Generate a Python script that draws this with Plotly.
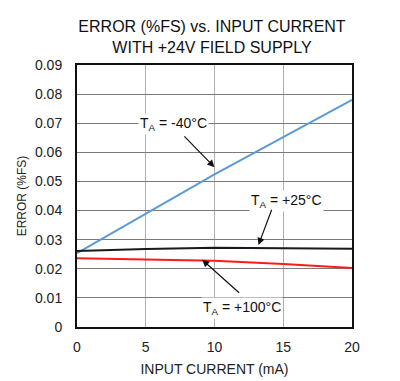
import plotly.graph_objects as go

current = [0, 5, 10, 15, 20]
err_m40 = [0.0254, 0.0390, 0.0524, 0.0652, 0.0780]
err_p25 = [0.0261, 0.0268, 0.0272, 0.0271, 0.0269]
err_p100 = [0.0236, 0.0233, 0.0228, 0.0216, 0.0203]

x_ticks = [0, 5, 10, 15, 20]
y_ticks = [0, 0.01, 0.02, 0.03, 0.04, 0.05, 0.06, 0.07, 0.08, 0.09]

fig = go.Figure()
fig.add_trace(go.Scatter(x=current, y=err_m40, mode="lines",
                         line=dict(color="#5b9bd5", width=2), showlegend=False))
fig.add_trace(go.Scatter(x=current, y=err_p25, mode="lines",
                         line=dict(color="#1a1a1a", width=2), showlegend=False))
fig.add_trace(go.Scatter(x=current, y=err_p100, mode="lines",
                         line=dict(color="#ff1a1a", width=2), showlegend=False))

# darker vertical line at x = 10
fig.add_shape(type="line", x0=10, x1=10, y0=0, y1=0.09, xref="x", yref="y",
              line=dict(color="#222222", width=1), layer="below")

font = "Liberation Sans, Arial, sans-serif"
ann = [
    dict(text="T<sub>A</sub> = -40°C", x=7.0, y=0.0697, ax=7.7, ay=0.0660, head=(10.0, 0.0549)),
    dict(text="T<sub>A</sub> = +25°C", x=15.2, y=0.0434, ax=14.2, ay=0.0408, head=(13.2, 0.0282)),
    dict(text="T<sub>A</sub> = +100°C", x=12.0, y=0.0065, ax=11.9, ay=0.0113, head=(9.1, 0.0231)),
]
for a in ann:
    fig.add_annotation(x=a["x"], y=a["y"], text=a["text"], showarrow=False,
                       font=dict(family=font, size=14, color="#111"),
                       bgcolor="white", borderpad=1)
    fig.add_annotation(x=a["head"][0], y=a["head"][1], ax=a["ax"], ay=a["ay"],
                       axref="x", ayref="y", text="", showarrow=True,
                       arrowhead=2, arrowsize=1.2, arrowwidth=1.2, arrowcolor="#111")

fig.update_layout(
    width=400, height=381,
    margin=dict(l=77, r=48, t=65, b=54),
    paper_bgcolor="white", plot_bgcolor="white",
    font=dict(family=font, size=13, color="#222"),
    title=dict(text="ERROR (%FS) vs. INPUT CURRENT<br>WITH +24V FIELD SUPPLY",
               x=0.53, xanchor="center", y=0.915, yanchor="top",
               font=dict(family=font, size=16, color="#111")),
)
fig.update_xaxes(range=[0, 20], tickvals=x_ticks, showgrid=True, automargin=False,
                 gridcolor="#b0b0b0", gridwidth=1, zeroline=False,
                 showline=True, linecolor="#111", linewidth=2, mirror=True,
                 ticks="outside", ticklen=6, tickcolor="white",
                 title=dict(text="INPUT CURRENT (mA)", font=dict(size=14), standoff=10),
                 tickfont=dict(size=14))
fig.update_yaxes(range=[0, 0.09], tickvals=y_ticks, automargin=False,
                 ticktext=["0"] + [f"{v:.2f}" for v in y_ticks[1:]],
                 showgrid=True, gridcolor="#7a7a7a", gridwidth=1, zeroline=False,
                 showline=True, linecolor="#111", linewidth=2, mirror=True,
                 ticks="outside", ticklen=10, tickcolor="white",
                 title=dict(text="ERROR (%FS)", font=dict(size=12), standoff=6),
                 tickfont=dict(size=14))

fig.write_html("out.html")
